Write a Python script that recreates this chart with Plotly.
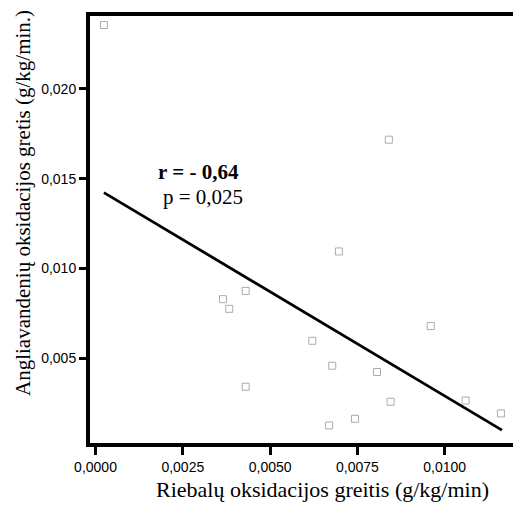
import plotly.graph_objects as go

fat_ox = [0.00024, 0.0084, 0.00697, 0.00365, 0.00383, 0.0043, 0.0043, 0.00621,
          0.00678, 0.00669, 0.00743, 0.00806, 0.00845, 0.0096, 0.0106, 0.01161]
cho_ox = [0.02356, 0.01717, 0.01094, 0.00828, 0.00774, 0.00874, 0.0034, 0.00596,
          0.00457, 0.00124, 0.00161, 0.00422, 0.00256, 0.00678, 0.00263, 0.00191]

fit_x = [0.00024, 0.01164]
fit_y = [0.01422, 0.00098]

x_ticks = [0.0, 0.0025, 0.005, 0.0075, 0.01]
y_ticks = [0.005, 0.010, 0.015, 0.020]

L, B, T = 90, 72, 16
PW, PH = 513 - L, 515 - T - B

fig = go.Figure()
fig.add_trace(go.Scatter(x=fat_ox, y=cho_ox, mode="markers",
                         marker=dict(symbol="square-open", size=7, color="#ababab",
                                     line=dict(width=1, color="#ababab")),
                         showlegend=False))
fig.add_trace(go.Scatter(x=fit_x, y=fit_y, mode="lines",
                         line=dict(color="black", width=2.8), showlegend=False))

serif = "Liberation Serif, Times New Roman"
fig.update_layout(
    width=513, height=515,
    margin=dict(l=L, r=0, t=T, b=B),
    plot_bgcolor="white", paper_bgcolor="white",
    separators=", ",
    font=dict(family="Liberation Sans, Arial", size=14, color="black"),
    xaxis=dict(range=[-0.000158, 0.011956], tickvals=x_ticks, tickformat=".4f",
               showgrid=False, zeroline=False, showline=True, linewidth=4,
               linecolor="black", mirror=True, ticks="outside", ticklen=8,
               tickwidth=3, tickcolor="black"),
    yaxis=dict(range=[0.000262, 0.024064], tickvals=y_ticks, tickformat=".3f",
               showgrid=False, zeroline=False, showline=True, linewidth=4,
               linecolor="black", mirror=False, ticks="outside", ticklen=7,
               tickwidth=3, tickcolor="black"),
    annotations=[
        dict(x=0.002935, y=0.01537, xref="x", yref="y", showarrow=False,
             text="<b>r = - 0,64</b>",
             font=dict(family=serif, size=21, color="black")),
        dict(x=0.00308, y=0.01399, xref="x", yref="y", showarrow=False,
             text="p = 0,025",
             font=dict(family=serif, size=21, color="black")),
        dict(x=(23 - L) / PW, y=(443 - 203) / PH, xref="paper", yref="paper", showarrow=False,
             text="Angliavandenių oksidacijos gretis (g/kg/min.)", textangle=-90,
             xanchor="center", yanchor="middle",
             font=dict(family=serif, size=21, color="black")),
        dict(x=(322 - L) / PW, y=(443 - 490) / PH, xref="paper", yref="paper", showarrow=False,
             text="Riebalų oksidacijos greitis (g/kg/min)",
             xanchor="center", yanchor="middle",
             font=dict(family=serif, size=22, color="black")),
    ],
)

fig.write_html("out.html")
